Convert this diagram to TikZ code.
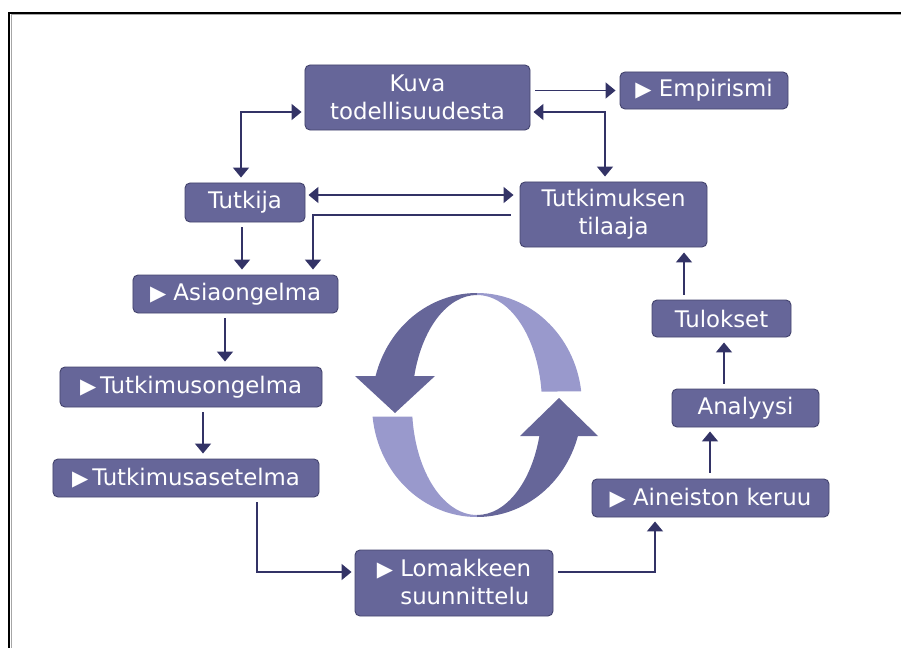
\documentclass[tikz,border=0pt]{standalone}
\usepackage{fontspec}
\setmainfont{DejaVu Sans}
\usetikzlibrary{arrows.meta}
\definecolor{stepfill}{HTML}{666699}
\definecolor{stepedge}{HTML}{44446E}
\definecolor{linknavy}{HTML}{333366}
\definecolor{cycledark}{HTML}{666699}
\definecolor{cyclelight}{HTML}{9999CC}
\newcommand{\navmark}{{\fontsize{18}{18}\selectfont ▶}}

\begin{document}
\begin{tikzpicture}[x=0.03cm,y=-0.03cm,font=\fontsize{19.5}{24}\selectfont,
  stage/.style={draw=stepedge,line width=0.8pt,fill=stepfill,text=white,rounded corners=0.15cm,inner sep=0pt,minimum height=1.11cm,align=center},
  link/.style={draw=linknavy,line width=1.5pt,-{Triangle[length=0.3cm,width=0.48cm]}},
  twoway/.style={link,{Triangle[length=0.3cm,width=0.48cm]}-{Triangle[length=0.3cm,width=0.48cm]}}]
\useasboundingbox (0,0) rectangle (901,648);
\draw[line width=0.06cm] (9,648) -- (9,13) -- (901,13);
\draw[black!35,line width=0.03cm] (11,648) -- (11,15) -- (901,15);
\begin{scope}[shift={(477,405)}]
\fill[cycledark] (90:3.15cm and 3.36cm) arc[start angle=90,end angle=165,x radius=3.15cm,y radius=3.36cm] -- (165:1.95cm and 3.3cm) arc[start angle=165,end angle=90,x radius=1.95cm,y radius=3.3cm] -- cycle;
\fill[cycledark] (-122,-29) -- (-42,-29) -- (-82,8) -- cycle;
\fill[cyclelight] (186:3.15cm and 3.36cm) arc[start angle=186,end angle=270,x radius=3.15cm,y radius=3.36cm] -- (270:1.95cm and 3.3cm) arc[start angle=270,end angle=186,x radius=1.95cm,y radius=3.3cm] -- cycle;
\fill[cyclelight] (7:3.15cm and 3.36cm) arc[start angle=7,end angle=90,x radius=3.15cm,y radius=3.36cm] -- (90:1.95cm and 3.3cm) arc[start angle=90,end angle=7,x radius=1.95cm,y radius=3.3cm] -- cycle;
\fill[cycledark] (270:3.15cm and 3.36cm) arc[start angle=270,end angle=344,x radius=3.15cm,y radius=3.36cm] -- (344:1.95cm and 3.3cm) arc[start angle=344,end angle=270,x radius=1.95cm,y radius=3.3cm] -- cycle;
\fill[cycledark] (43,31) -- (121,31) -- (82,-7) -- cycle;
\end{scope}
\node[stage,minimum width=6.75cm,minimum height=1.95cm] (kuva) at (417.5,97.5) {Kuva\\todellisuudesta};
\node[stage,minimum width=5.04cm] (empirismi) at (704,90.5) {\navmark\ Empirismi};
\node[stage,minimum width=3.6cm,minimum height=1.17cm] (tutkija) at (245,202.5) {Tutkija};
\node[stage,minimum width=5.61cm,minimum height=1.95cm] (tilaaja) at (613.5,214.5) {Tutkimuksen\\tilaaja};
\node[stage,minimum width=6.15cm,minimum height=1.14cm] (asia) at (235.5,294) {\navmark\ Asiaongelma};
\node[stage,minimum width=7.86cm,minimum height=1.2cm] (tongelma) at (191,387) {\navmark\hspace{0.12cm}Tutkimusongelma};
\node[stage,minimum width=7.98cm,minimum height=1.14cm] (tasetelma) at (186,478) {\navmark\hspace{0.12cm}Tutkimusasetelma};
\node[stage,minimum width=5.94cm,minimum height=1.98cm,align=left] (lomake) at (454,583) {\navmark\ Lomakkeen\\\phantom{\navmark\ }suunnittelu};
\node[stage,minimum width=7.11cm,minimum height=1.14cm] (aineisto) at (710.5,498) {\navmark\ Aineiston keruu};
\node[stage,minimum width=4.41cm,minimum height=1.14cm] (analyysi) at (745.5,408) {Analyysi};
\node[stage,minimum width=4.17cm] (tulokset) at (721.5,318.5) {Tulokset};
\draw[link,shorten <=0.15cm,shorten >=0.12cm] (kuva.east |- empirismi) -- (empirismi);
\draw[twoway] ([shift={(3,14.5)}]kuva.east) -| ([shift={(-8.5,-5)}]tilaaja.north);
\draw[twoway] ([shift={(-3,14.5)}]kuva.west) -| ([shift={(-4,-5)}]tutkija.north);
\draw[twoway] ([shift={(3,-7.5)}]tutkija.east) -- ([shift={(-6,-19.5)}]tilaaja.west);
\draw[link] ([shift={(-9,0.5)}]tilaaja.west) -| ([shift={(77.5,-5)}]asia.north);
\draw[link] ([shift={(-3,5)}]tutkija.south) -- ([shift={(6.5,-5)}]asia.north);
\draw[link] ([shift={(-10.5,5)}]asia.south) -- ([shift={(34,-5)}]tongelma.north);
\draw[link] ([shift={(12,5)}]tongelma.south) -- ([shift={(17,-5)}]tasetelma.north);
\draw[link] ([shift={(71,5)}]tasetelma.south) |- ([shift={(-3,-11)}]lomake.west);
\draw[link] ([shift={(5,-11)}]lomake.east) -| ([shift={(-55.5,4)}]aineisto.south);
\draw[link] ([shift={(-0.5,-6)}]aineisto.north) -- ([shift={(-35.5,4)}]analyysi.south);
\draw[link] ([shift={(-21.5,-5)}]analyysi.north) -- ([shift={(2.5,5)}]tulokset.south);
\draw[link] ([shift={(-37.5,-5)}]tulokset.north) -- ([shift={(70.5,5)}]tilaaja.south);
\end{tikzpicture}
\end{document}
